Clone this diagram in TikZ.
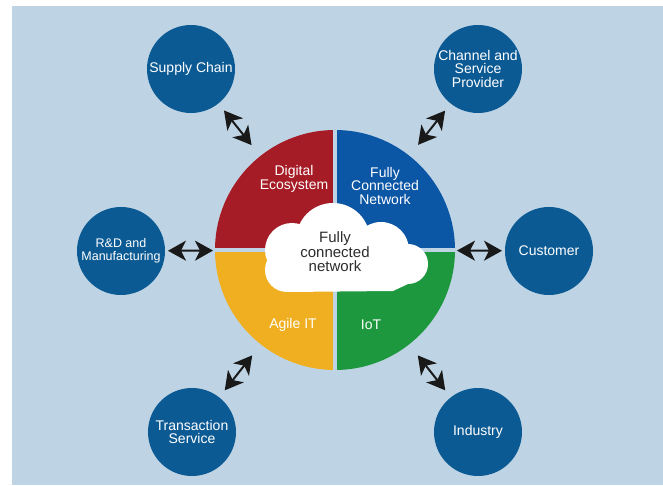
\documentclass[tikz,border=0pt]{standalone}
\usepackage{fontspec}
\setmainfont{Liberation Sans}
\usetikzlibrary{arrows.meta}
\definecolor{bgblue}{RGB}{190,212,228}
\definecolor{satblue}{RGB}{12,90,148}
\definecolor{qred}{RGB}{166,28,38}
\definecolor{qblue}{RGB}{12,86,166}
\definecolor{qyellow}{RGB}{240,175,32}
\definecolor{qgreen}{RGB}{30,152,62}
\definecolor{cloudtext}{RGB}{45,45,45}
\begin{document}
\begin{tikzpicture}[x=1pt,y=1pt,
  sat/.style={circle,fill=satblue,minimum size=88pt,inner sep=0pt,outer sep=0pt,text=white,align=center,font=\fontsize{14}{13.5}\selectfont},
  quad/.style={text=white,align=center,font=\fontsize{14}{13.5}\selectfont},
  link/.style={arrows={Stealth[length=18pt,width=20pt,inset=5pt]-Stealth[length=18pt,width=20pt,inset=5pt]},line width=2pt,black!90}]
  \useasboundingbox (-335,250) rectangle (328,-236);
  \fill[bgblue] (-323,244) rectangle (328,-235);

  \node[circle,minimum size=240pt,inner sep=0pt,outer sep=0pt] (hub) at (0,0) {};
  \fill[qred] (0,0) -- (90:120) arc[start angle=90,end angle=180,radius=120] -- cycle;
  \fill[qblue] (0,0) -- (0:120) arc[start angle=0,end angle=90,radius=120] -- cycle;
  \fill[qyellow] (0,0) -- (180:120) arc[start angle=180,end angle=270,radius=120] -- cycle;
  \fill[qgreen] (0,0) -- (270:120) arc[start angle=270,end angle=360,radius=120] -- cycle;
  \draw[bgblue,line width=4pt] (hub.north) -- (hub.south);
  \draw[bgblue,line width=4pt] (hub.west) -- (hub.east);

  \node[quad] (eco) at (-41,71) {Digital\\Ecosystem};
  \node[quad] (fcn) at (50,64) {Fully\\Connected\\Network};
  \node[quad] (agile) at (-42,-75) {Agile IT};
  \node[quad] (iot) at (36,-75) {IoT};

  \fill[white] (-2,10) circle[radius=37] (-43,0) circle[radius=27] (46,0) circle[radius=28]
    (73,-14) circle[radius=20] (-48,-20) circle[radius=22];
  \fill[white] (-48,-42) -- (58,-41) -- (73,-34) -- (73,-5) -- (-48,-5) -- cycle;
  \node[text=cloudtext,align=center,font=\fontsize{15}{14.5}\selectfont] (net) at (0,-2) {Fully\\connected\\network};

  \node[sat] (supply) at (-144,181) {Supply Chain};
  \node[sat] (channel) at (143,181) {Channel and\\Service\\Provider};
  \node[sat,font=\fontsize{12.5}{13}\selectfont] (rnd) at (-214,-1) {R\&D and\\Manufacturing};
  \node[sat] (customer) at (214,-1) {Customer};
  \node[sat] (trans) at (-143,-182) {Transaction\\Service};
  \node[sat] (industry) at (143,-182) {Industry};

  \draw[link,shorten <=9pt,shorten >=14pt] (supply) -- (hub);
  \draw[link,shorten <=9pt,shorten >=14pt] (channel) -- (hub);
  \draw[link,shorten <=3pt,shorten >=2pt] (rnd) -- (hub);
  \draw[link,shorten <=3pt,shorten >=2pt] (customer) -- (hub);
  \draw[link,shorten <=9pt,shorten >=14pt] (trans) -- (hub);
  \draw[link,shorten <=9pt,shorten >=14pt] (industry) -- (hub);
\end{tikzpicture}
\end{document}
